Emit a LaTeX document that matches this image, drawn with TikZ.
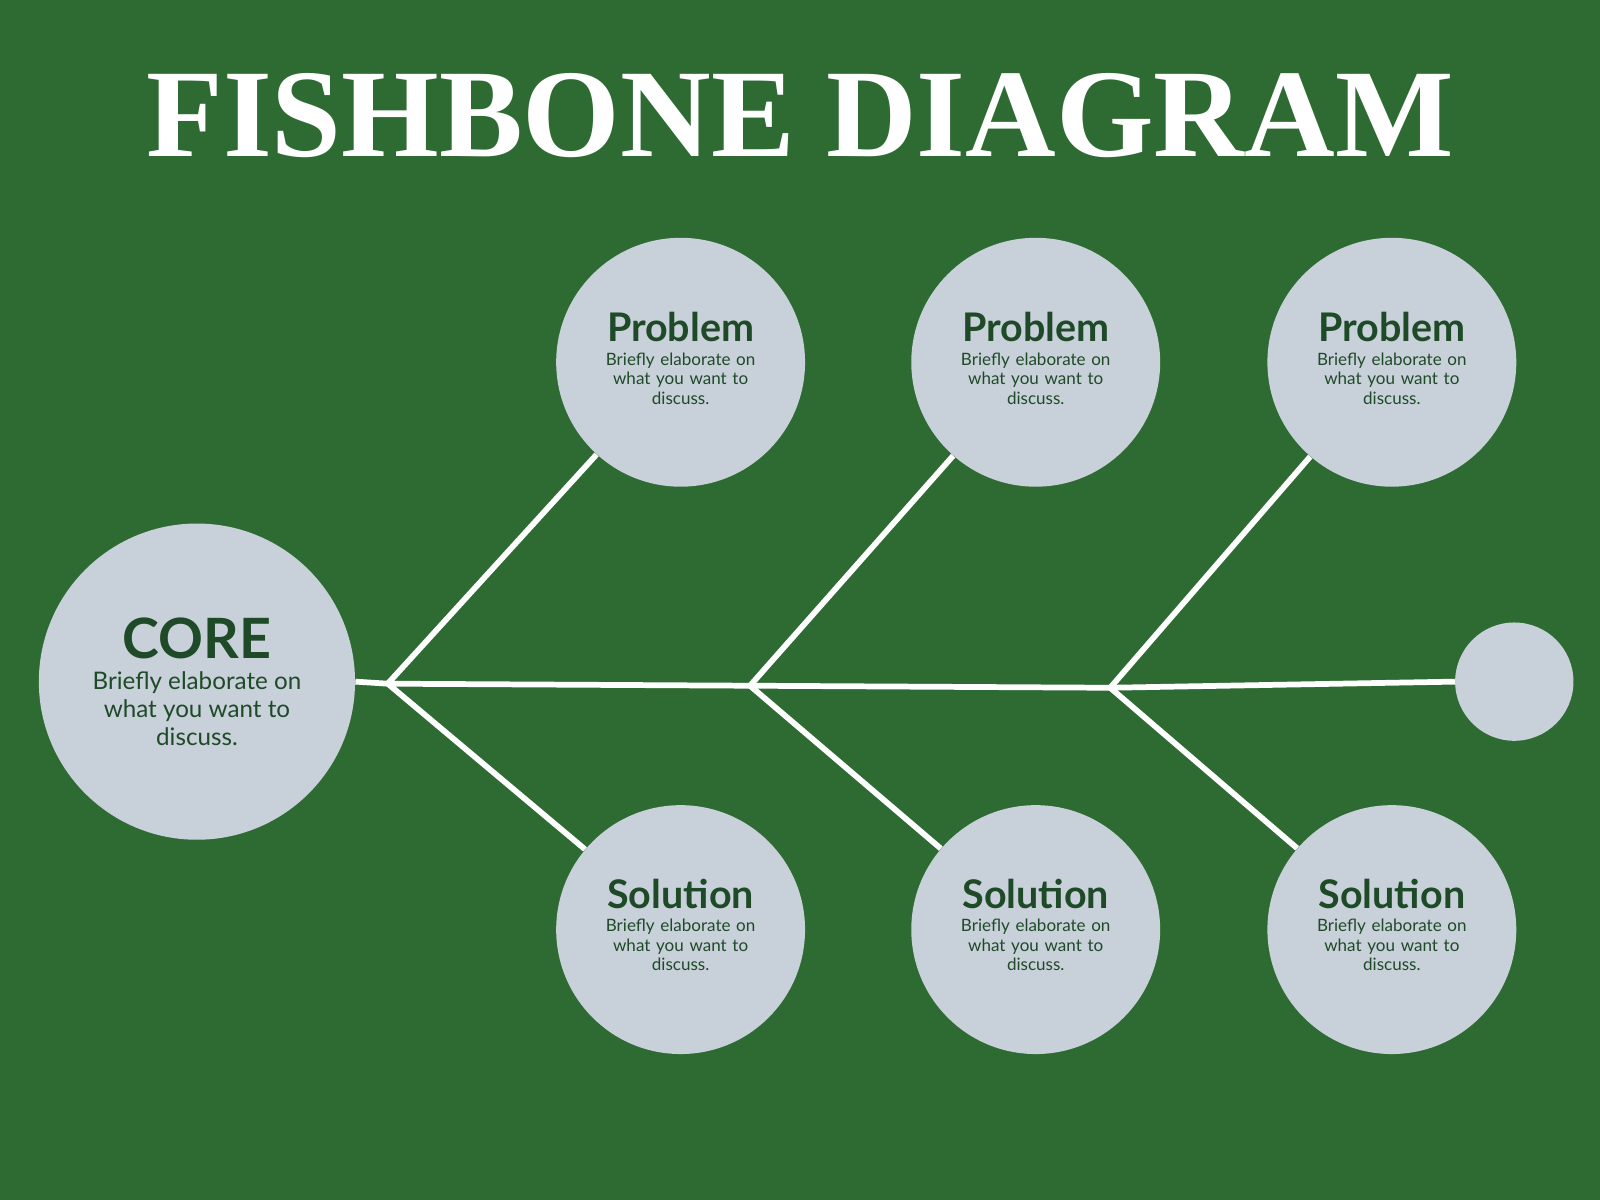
\documentclass[tikz,border=0pt]{standalone}
\usepackage{fontspec}
\setmainfont{Lato}
\newfontfamily\titlefont{Liberation Serif}
\begin{document}
\definecolor{bg}{HTML}{2E6B33}
\definecolor{disc}{HTML}{C8D0D9}
\definecolor{ink}{HTML}{1F4A28}
\begin{tikzpicture}[x=0.02cm,y=-0.02cm,
  disc/.style={circle,fill=disc,inner sep=0pt,minimum size=#1*0.04cm},
  bone/.style={white,line width=3.2pt},
  lbl/.style={text=ink,align=center,font=\fontsize{9.5}{11}\selectfont,text width=3.4cm}]
\fill[bg] (0,0) rectangle (1568,1176);
\useasboundingbox (0,0) rectangle (1568,1176);
\node[text=white,font=\titlefont\bfseries\fontsize{70}{70}\selectfont] (title) at (784,113) {FISHBONE DIAGRAM};
\coordinate (j1) at (380,670);
\coordinate (j2) at (735,672);
\coordinate (j3) at (1088,674);
\node[disc=155] (core) at (193,668) {};
\node[disc=58] (tail) at (1484,668) {};
\foreach \i/\x in {1/667,2/1015,3/1364}{
  \node[disc=122] (p\i) at (\x,355) {};
  \node[disc=122] (s\i) at (\x,911) {};
  \node[lbl,anchor=north] (pt\i) at (\x,300) {{\fontsize{22}{24}\selectfont\bfseries Problem}\\[2pt]Briefly elaborate on\\what you want to\\discuss.};
  \node[lbl,anchor=north] (st\i) at (\x,855) {{\fontsize{22}{24}\selectfont\bfseries Solution}\\[2pt]Briefly elaborate on\\what you want to\\discuss.};
}
\draw[bone] (core.east) -- (j1) -- (j2) -- (j3) -- (tail.west);
\draw[bone] (j1) -- (p1); \draw[bone] (j1) -- (s1);
\draw[bone] (j2) -- (p2); \draw[bone] (j2) -- (s2);
\draw[bone] (j3) -- (p3); \draw[bone] (j3) -- (s3);
\node[text=ink,align=center,font=\fontsize{13.5}{15.5}\selectfont] (ct) at (193,668) {{\fontsize{31}{34}\selectfont\bfseries CORE}\\[2pt]Briefly elaborate on\\what you want to\\discuss.};
\end{tikzpicture}
\end{document}
